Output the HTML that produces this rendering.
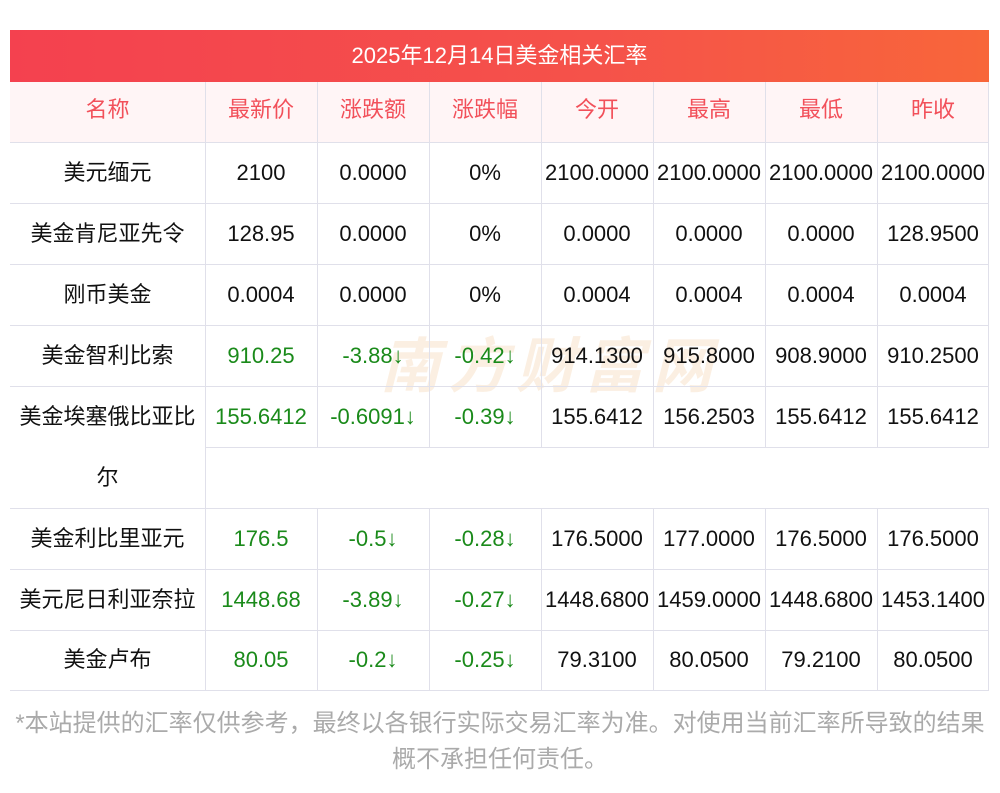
<!DOCTYPE html><html><head><meta charset="utf-8"><style>
body{margin:0;width:1000px;height:793px;background:#fff;position:relative;overflow:hidden;font-family:"Liberation Sans","Noto Sans CJK SC",sans-serif;}
.t{position:absolute;left:10px;top:30px;width:979px;height:52px;background:linear-gradient(90deg,#f4414f,#f5524a 60%,#f8663a);color:#fff;font-size:22px;line-height:52px;text-align:center;}
.hd{position:absolute;left:10px;top:82px;width:979px;height:60px;background:#fff5f6;}
.c{position:absolute;font-size:22px;text-align:center;color:#111;}
.h{color:#f2505a;}
.g{color:#1a8a1a;}
.hl{position:absolute;height:1px;background:#e0e0ea;}
.vl{position:absolute;width:1px;background:#e0e0ea;}
.wm{position:absolute;left:380px;top:318px;font-size:60px;color:rgba(240,190,140,0.25);font-style:italic;font-weight:bold;letter-spacing:8px;}
.foot{position:absolute;left:0;top:706px;width:1000px;text-align:center;font-size:24px;line-height:36px;color:#aaa;white-space:nowrap;}
</style></head><body>
<div class="t">2025年12月14日美金相关汇率</div>
<div class="hd"></div>
<div class="wm">南方财富网</div>
<div id="g"></div>
<div class="foot">*本站提供的汇率仅供参考，最终以各银行实际交易汇率为准。对使用当前汇率所导致的结果<br>概不承担任何责任。</div>
<script>
var xs=[10,205,317,429,541,653,765,877,989];
var rows=[
["h","名称","最新价","涨跌额","涨跌幅","今开","最高","最低","昨收"],
["","美元缅元","2100","0.0000","0%","2100.0000","2100.0000","2100.0000","2100.0000"],
["","美金肯尼亚先令","128.95","0.0000","0%","0.0000","0.0000","0.0000","128.9500"],
["","刚币美金","0.0004","0.0000","0%","0.0004","0.0004","0.0004","0.0004"],
["g","美金智利比索","910.25","-3.88↓","-0.42↓","914.1300","915.8000","908.9000","910.2500"],
["g","美金埃塞俄比亚比","155.6412","-0.6091↓","-0.39↓","155.6412","156.2503","155.6412","155.6412"],
["g","美金利比里亚元","176.5","-0.5↓","-0.28↓","176.5000","177.0000","176.5000","176.5000"],
["g","美元尼日利亚奈拉","1448.68","-3.89↓","-0.27↓","1448.6800","1459.0000","1448.6800","1453.1400"],
["g","美金卢布","80.05","-0.2↓","-0.25↓","79.3100","80.0500","79.2100","80.0500"]];
var ys=[82,142,203,264,325,386,508,569,630];var hh=[56,61,61,61,61,61,61,61,60];
var h="";
rows.forEach(function(r,i){var y=ys[i],H=hh[i];
for(var j=1;j<9;j++){var cls="c"+(r[0]=="h"?" h":(r[0]=="g"&&j>1&&j<5?" g":""));
h+='<div class="'+cls+'" style="left:'+xs[j-1]+'px;top:'+y+'px;width:'+(xs[j]-xs[j-1])+'px;line-height:'+H+'px;white-space:nowrap">'+r[j]+'</div>';}});
h+='<div class="c" style="left:10px;top:447px;width:195px;line-height:61px">尔</div>';
[142,203,264,325,386,508,569,630,690].forEach(function(y){h+='<div class="hl" style="left:10px;top:'+y+'px;width:979px"></div>'});
h+='<div class="hl" style="left:205px;top:447px;width:784px"></div>';
for(var j=1;j<9;j++){ if(j==8){h+='<div class="vl" style="left:988px;top:82px;height:365px"></div><div class="vl" style="left:988px;top:508px;height:182px"></div>';continue;}
if(j==1){h+='<div class="vl" style="left:205px;top:82px;height:608px"></div>';continue;}
h+='<div class="vl" style="left:'+xs[j]+'px;top:82px;height:365px"></div><div class="vl" style="left:'+xs[j]+'px;top:508px;height:182px"></div>';}
document.getElementById("g").innerHTML=h;
</script>
</body></html>
